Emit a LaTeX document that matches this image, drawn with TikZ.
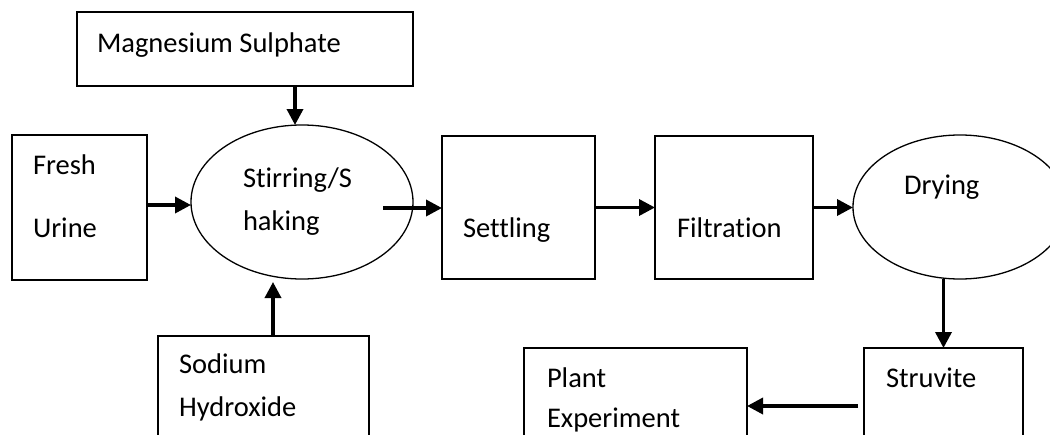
\documentclass[tikz,border=0pt]{standalone}
\usepackage{fontspec}
\setmainfont{Carlito}[Ligatures={NoCommon}]
\usetikzlibrary{shapes.geometric,arrows.meta,calc}
\tikzset{
  blk/.style={draw=black,line width=1.5pt,rectangle,inner sep=0pt,outer sep=0pt},
  oval/.style={draw=black,line width=1.3pt,ellipse,inner sep=0pt,outer sep=0pt},
  lbl/.style={anchor=base west,inner sep=0pt,outer sep=0pt,font=\fontsize{28.5}{34}\selectfont},
  flow/.style={line width=3.5pt,-{Triangle[length=16pt,width=16pt]},shorten >=0pt}
}
\begin{document}
\begin{tikzpicture}[x=1pt,y=-1pt]
\clip (0,0) rectangle (1050,434);
\fill[white] (0,0) rectangle (1050,434);
% boxes
\node[blk,minimum width=336pt,minimum height=74pt] (mg) at (245,49) {};
\node[blk,minimum width=135pt,minimum height=145pt] (fresh) at (79.5,207.5) {};
\node[oval,minimum width=222pt,minimum height=154pt] (stir) at (302,202) {};
\node[blk,minimum width=153pt,minimum height=143pt] (settle) at (518.5,207.5) {};
\node[blk,minimum width=158pt,minimum height=143pt] (filt) at (734,207.5) {};
\node[oval,minimum width=214pt,minimum height=144pt] (dry) at (960,207) {};
\node[blk,minimum width=211pt,minimum height=134pt] (sod) at (263.5,403) {};
\node[blk,minimum width=159pt,minimum height=122pt] (struv) at (943.5,409) {};
\node[blk,minimum width=223pt,minimum height=122pt] (plant) at (635.5,409) {};
% labels
\node[lbl] (tmg) at (97,52) {Magnesium Sulphate};
\node[lbl] (tfresh) at (33,174) {Fresh};
\node[lbl] (turine) at (33,237) {Urine};
\node[lbl] (tstir1) at (243,187) {Stirring/S};
\node[lbl] (tstir2) at (243,230) {haking};
\node[lbl] (tsettle) at (463,237) {Settling};
\node[lbl] (tfilt) at (677,237) {Filtration};
\node[lbl] (tdry) at (904,194) {Drying};
\node[lbl] (tsod1) at (179,373) {Sodium};
\node[lbl] (tsod2) at (179,416) {Hydroxide};
\node[lbl] (tstruv) at (886,387) {Struvite};
\node[lbl] (tplant1) at (547,387) {Plant};
\node[lbl] (tplant2) at (547,427) {Experiment};
% connectors
\coordinate (mgout) at ([xshift=-7pt]stir.north |- mg.south);
\draw[flow] (mgout) -- ([xshift=-7pt]stir.north);
\draw[flow] ([yshift=2.5pt]fresh.east) -- ([yshift=2.5pt]fresh.east -| stir.west);
\coordinate (stirout) at ($(stir.center)+(81,6)$);
\draw[flow] (stirout) -- (stirout -| settle.west);
\draw[flow] (settle.east) -- (filt.west);
\draw[flow] (filt.east) -- (filt.east -| dry.west);
\draw[flow] (struv.north |- dry.south) -- (struv.north);
\coordinate (struvout) at ($(struv.west)+(-6,-3)$);
\draw[flow] (struvout) -- (struvout -| plant.east);
\draw[flow] ([xshift=9.5pt]sod.north) -- ([xshift=9.5pt,yshift=-3pt]sod.north |- stir.south);
\end{tikzpicture}
\end{document}
